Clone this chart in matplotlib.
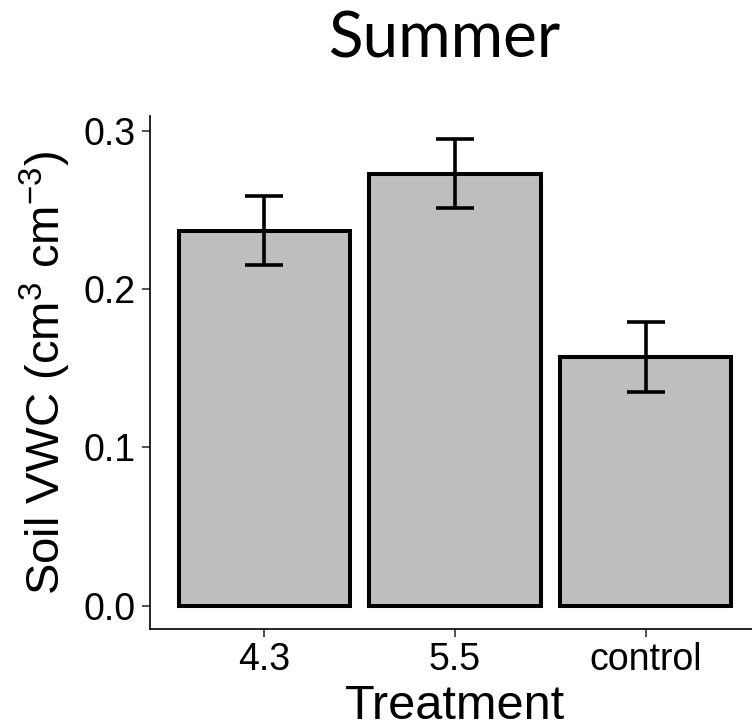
import matplotlib
matplotlib.use("Agg")
import matplotlib.pyplot as plt
import numpy as np

# soil volumetric water content, summer campaign
treatments = ["4.3", "5.5", "control"]
vwc_mean = [0.237, 0.273, 0.157]
vwc_se = [0.0217, 0.0218, 0.0222]

plt.rcParams["font.family"] = ["Liberation Sans", "DejaVu Sans"]
plt.rcParams["mathtext.fontset"] = "custom"
plt.rcParams["mathtext.rm"] = "Liberation Sans"

fig = plt.figure(figsize=(7.52, 7.27), dpi=100)
# axes spans past the right edge, like the cropped original layout
ax = fig.add_axes([150 / 752, (727 - 629) / 727, 610 / 752, 513 / 727])

x = np.arange(1, len(treatments) + 1)
ax.bar(x, vwc_mean, width=0.9, color="#BEBEBE", edgecolor="black",
       linewidth=2.9, zorder=2)
ax.errorbar(x, vwc_mean, yerr=vwc_se, fmt="none", ecolor="black",
            elinewidth=2.6, capsize=13.7, capthick=2.6, zorder=3)

top = max(m + s for m, s in zip(vwc_mean, vwc_se))
pad = 0.05 * top
ax.set_xlim(0.4, 3.6)
ax.set_ylim(-pad, top + pad)

ax.set_xticks(x)
ax.set_xticklabels(treatments)
ax.set_yticks([0.0, 0.1, 0.2, 0.3])
ax.set_yticklabels(["0.0", "0.1", "0.2", "0.3"])
ax.tick_params(axis="both", length=5.5, width=1.2, color="#333333",
               labelsize=27, labelcolor="black")
ax.tick_params(axis="y", pad=5)
ax.tick_params(axis="x", pad=4)

for spine in ("top", "right"):
    ax.spines[spine].set_visible(False)
for spine in ("left", "bottom"):
    ax.spines[spine].set_linewidth(1.2)
    ax.spines[spine].set_color("black")

ax.set_xlabel("Treatment", fontsize=35, labelpad=4)
ax.set_ylabel(r"Soil VWC (cm$^{\mathrm{3}}$ cm$^{\mathrm{-3}}$)", fontsize=34)
ax.yaxis.set_label_coords((73 - 150) / 610, 0.5)

fig.text(445 / 752, (727 - 57) / 727, "Summer", fontsize=46,
         family=["Lato", "DejaVu Sans"], ha="center", va="baseline")

fig.savefig("out.png", dpi=100)
